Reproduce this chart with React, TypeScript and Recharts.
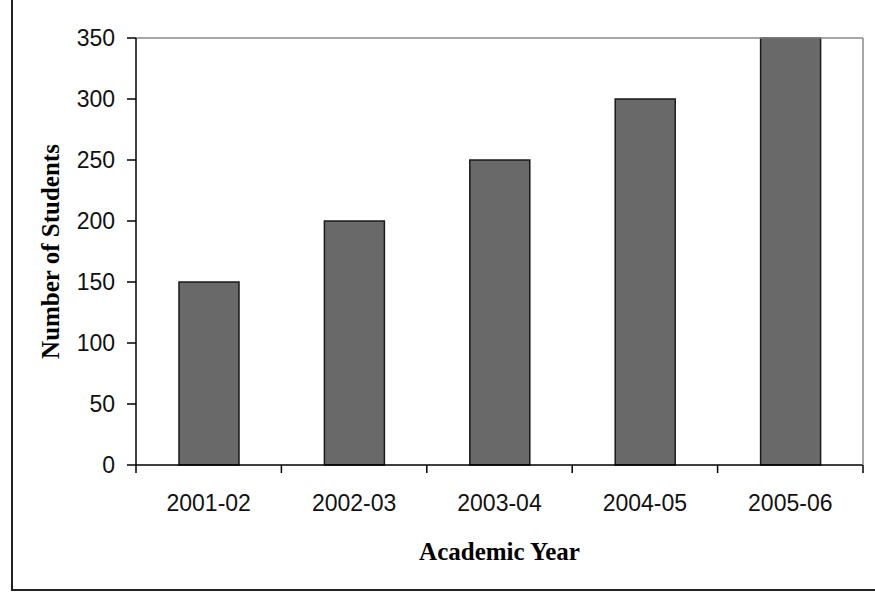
import { BarChart, Bar, XAxis, YAxis, Label } from "recharts";

const years = ["2001-02", "2002-03", "2003-04", "2004-05", "2005-06"];
const students = [150, 200, 250, 300, 350];
const yTicks = [0, 50, 100, 150, 200, 250, 300, 350];

const data = years.map((year, i) => ({ year, students: students[i] }));

const W = 875;
const H = 594;
const LEFT = 136;
const RIGHT = 11;
const TOP = 37;
const X_AXIS_H = 129;
const STEP = (W - LEFT - RIGHT - 1) / years.length;

const tickFont = { fontFamily: "'Liberation Sans', Arial, sans-serif", fontSize: 23, fill: "#111" };
const titleFont = { fontFamily: "'Liberation Serif', 'Times New Roman', serif", fontSize: 25, fontWeight: 700, fill: "#000" };

// category label plus the tick marks sitting on the band boundaries
function YearTick(props: any) {
  const { x, y, payload, index } = props;
  const left = x - STEP / 2;
  return (
    <g>
      <line x1={left} y1={y} x2={left} y2={y + 8} stroke="#000" strokeWidth={1.5} />
      {index === years.length - 1 && (
        <line x1={x + STEP / 2} y1={y} x2={x + STEP / 2} y2={y + 8} stroke="#000" strokeWidth={1.5} />
      )}
      <text x={x} y={y + 38} textAnchor="middle" dominantBaseline="central" {...tickFont}>
        {payload.value}
      </text>
    </g>
  );
}

function YTitle(props: any) {
  const { viewBox } = props;
  const cx = 50;
  const cy = viewBox.y + viewBox.height / 2;
  return (
    <text
      x={cx}
      y={cy}
      transform={`rotate(-90, ${cx}, ${cy})`}
      textAnchor="middle"
      dominantBaseline="central"
      {...titleFont}
    >
      Number of Students
    </text>
  );
}

export default function App() {
  return (
    <div style={{ position: "absolute", left: 0, top: 0, width: W, height: H, background: "#fff" }}>
      <div
        style={{
          position: "absolute",
          left: 11,
          top: 0,
          width: W - 11,
          height: 589,
          borderLeft: "2px solid #222",
          borderBottom: "2px solid #222",
          pointerEvents: "none",
        }}
      />
      <BarChart
        width={W}
        height={H}
        data={data}
        margin={{ top: TOP, right: RIGHT, bottom: 0, left: 0 }}
      >
        <XAxis
          dataKey="year"
          height={X_AXIS_H}
          axisLine={{ stroke: "#000", strokeWidth: 1.5 }}
          tickLine={false}
          tickSize={0}
          tickMargin={0}
          tick={<YearTick />}
          interval={0}
        >
          <Label
            value="Academic Year"
            position="insideBottom"
            offset={34}
            style={{ ...titleFont, textAnchor: "middle" }}
          />
        </XAxis>
        {/* grey top and right edges of the plot frame */}
        <XAxis
          xAxisId="frame"
          orientation="top"
          dataKey="year"
          height={1}
          tick={false}
          tickLine={false}
          axisLine={{ stroke: "#888", strokeWidth: 1.5 }}
        />
        <YAxis
          width={LEFT}
          domain={[0, 350]}
          ticks={yTicks}
          interval={0}
          axisLine={{ stroke: "#000", strokeWidth: 1.5 }}
          tickLine={{ stroke: "#000", strokeWidth: 1.5 }}
          tickSize={9}
          tickMargin={12}
          tick={tickFont}
        >
          <Label content={<YTitle />} />
        </YAxis>
        <YAxis
          yAxisId="frame"
          orientation="right"
          width={1}
          domain={[0, 350]}
          tick={false}
          tickLine={false}
          axisLine={{ stroke: "#888", strokeWidth: 1.5 }}
        />
        <Bar
          dataKey="students"
          barSize={60}
          fill="#696969"
          stroke="#1a1a1a"
          strokeWidth={1.5}
          isAnimationActive={false}
        />
      </BarChart>
    </div>
  );
}
